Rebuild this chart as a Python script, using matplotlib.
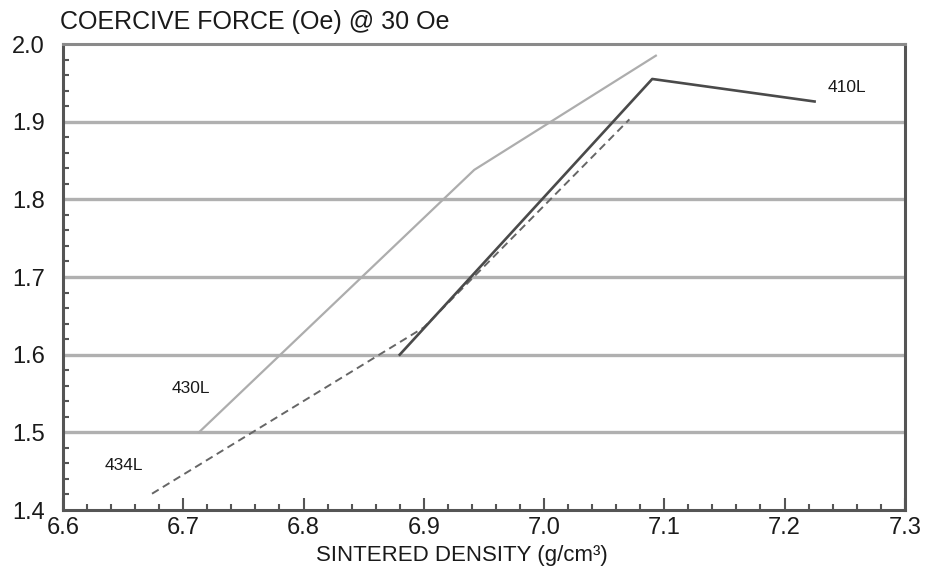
import matplotlib
matplotlib.use("Agg")
import matplotlib.pyplot as plt
from matplotlib.ticker import MultipleLocator, FormatStrFormatter

# Coercive force vs sintered density for three stainless grades
density_410L = [6.88, 7.09, 7.225]
force_410L = [1.60, 1.955, 1.926]

density_430L = [6.713, 6.942, 7.093]
force_430L = [1.50, 1.838, 1.985]

density_434L = [6.674, 6.90, 7.071]
force_434L = [1.421, 1.635, 1.903]

x_ticks = [6.6, 6.7, 6.8, 6.9, 7.0, 7.1, 7.2, 7.3]
y_ticks = [1.4, 1.5, 1.6, 1.7, 1.8, 1.9, 2.0]

plt.rcParams['font.family'] = ['Liberation Sans', 'DejaVu Sans']

fig = plt.figure(figsize=(9.27, 5.77), dpi=100)
ax = fig.add_axes([0.068, 0.1161, 0.908, 0.8076])

# horizontal grid lines
for y in y_ticks[1:-1]:
    ax.axhline(y, color='#b0b0b0', lw=2.4, zorder=1)

ax.plot(density_430L, force_430L, color='#adadad', lw=1.6, zorder=3)
ax.plot(density_410L, force_410L, color='#4a4a4a', lw=1.9, zorder=4)
ax.plot(density_434L, force_434L, color='#666666', lw=1.4,
        dashes=(4, 2.5), zorder=3)

label_style = dict(fontsize=12.5, color='#1a1a1a', ha='center', va='center')
ax.text(7.252, 1.944, '410L', **label_style)
ax.text(6.706, 1.557, '430L', **label_style)
ax.text(6.651, 1.457, '434L', **label_style)

ax.set_xlim(6.6, 7.3)
ax.set_ylim(1.4, 2.0)
ax.set_xticks(x_ticks)
ax.set_yticks(y_ticks)
ax.xaxis.set_major_formatter(FormatStrFormatter('%.1f'))
ax.yaxis.set_major_formatter(FormatStrFormatter('%.1f'))
ax.xaxis.set_minor_locator(MultipleLocator(0.02))
ax.yaxis.set_minor_locator(MultipleLocator(0.02))

ax.tick_params(axis='both', which='both', direction='in', colors='#555555',
               labelcolor='#1a1a1a', labelsize=17)
ax.tick_params(axis='x', which='major', length=9, width=1.5, pad=5)
ax.tick_params(axis='x', which='minor', length=4, width=1.5)
ax.tick_params(axis='y', which='major', length=0, pad=13)
ax.tick_params(axis='y', which='minor', length=4, width=1.5)
ax.tick_params(top=False, right=False, which='both')

for side in ['left', 'bottom', 'right']:
    ax.spines[side].set_color('#555555')
    ax.spines[side].set_linewidth(2.2)
ax.spines['top'].set_color('#8a8a8a')
ax.spines['top'].set_linewidth(2.2)

fig.text(0.065, 0.962, 'COERCIVE FORCE (Oe) @ 30 Oe', fontsize=18,
         color='#1a1a1a', ha='left', va='center')
fig.text(0.498, 0.038, 'SINTERED DENSITY (g/cm³)', fontsize=16,
         color='#1a1a1a', ha='center', va='center')

fig.savefig('out.png', dpi=100, facecolor='white')
